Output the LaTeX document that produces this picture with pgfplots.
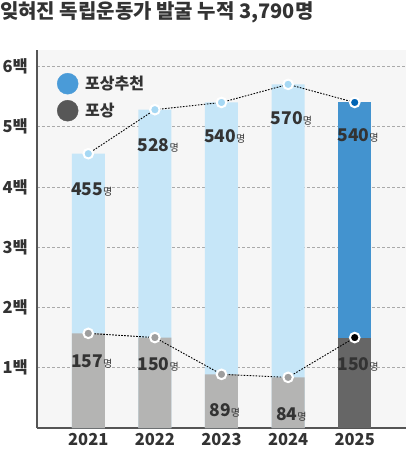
\documentclass[border=0pt]{standalone}
\usepackage{fontspec}
\setmainfont{Noto Sans CJK KR}
\usepackage{pgfplots}
\pgfplotsset{compat=1.18}

\definecolor{bgc}{HTML}{F6F6F6}
\definecolor{lblue}{HTML}{C6E6F8}
\definecolor{dblue}{HTML}{4393CF}
\definecolor{lgrey}{HTML}{B4B4B3}
\definecolor{dgrey}{HTML}{666666}
\definecolor{gridc}{HTML}{AAAAAA}
\definecolor{axc}{HTML}{555555}
\definecolor{txt}{HTML}{333333}
\definecolor{mkblue}{HTML}{A6D8F4}
\definecolor{mkgrey}{HTML}{9E9E9E}
\definecolor{mkdblue}{HTML}{0064B4}
\definecolor{legblue}{HTML}{4A9BD8}
\definecolor{leggrey}{HTML}{575757}

\newcommand\lab[1]{{\bfseries\fontsize{17.5}{17.5}\selectfont #1}{\fontsize{10}{10}\selectfont 명}}

\begin{document}
\begin{tikzpicture}[x=1pt,y=1pt]
\useasboundingbox (0,0) rectangle (406,456);
\node[anchor=north west, inner sep=0pt, text=txt,
      font=\bfseries\fontsize{20}{20}\selectfont] at (0,455) {잊혀진 독립운동가 발굴 누적 3,790명};
\begin{axis}[
    at={(37pt,28pt)}, anchor=south west,
    scale only axis, width=369pt, height=378pt,
    xmin=-0.77, xmax=4.77, ymin=0, ymax=627,
    axis x line*=bottom, axis y line*=left,
    axis line style={draw=axc, line width=1.2pt, -},
    axis background/.style={fill=bgc},
    xtick={0,1,2,3,4},
    xticklabels={2021,2022,2023,2024,2025},
    ytick={100,200,300,400,500,600},
    yticklabels={1백,2백,3백,4백,5백,6백},
    major tick length=0pt,
    ymajorgrids, grid style={densely dashed, gridc, line width=0.6pt},
    xticklabel style={inner sep=0pt, anchor=north, yshift=-5pt, text=txt,
                      font=\bfseries\fontsize{16.5}{16.5}\selectfont},
    yticklabel style={inner sep=0pt, anchor=east, xshift=-9pt, text=txt,
                      font=\bfseries\fontsize{16.5}{16.5}\selectfont},
    legend style={at={(0,1)}, anchor=north west, xshift=17pt, yshift=-21pt,
                  draw=none, fill=none, text=txt, row sep=6pt,
                  font=\bfseries\fontsize{16}{16}\selectfont},
    legend cell align=left,
]
% 포상추천 (total) bars
\addplot[ybar, bar width=33pt, bar shift=0pt, fill=lblue, draw=none, forget plot]
    coordinates {(0,455)(1,528)(2,540)(3,570)};
\addplot[ybar, bar width=33pt, bar shift=0pt, fill=dblue, draw=none, forget plot]
    coordinates {(4,540)};
% 포상 bars
\addplot[ybar, bar width=33pt, bar shift=0pt, fill=lgrey, draw=none, forget plot]
    coordinates {(0,157)(1,150)(2,89)(3,84)};
\addplot[ybar, bar width=33pt, bar shift=0pt, fill=dgrey, draw=none, forget plot]
    coordinates {(4,150)};

% dotted trend lines
\addplot[dash pattern=on 1.6pt off 1.4pt, line width=0.9pt, black, no marks, forget plot]
    coordinates {(0,455)(1,528)(2,540)(3,570)(4,540)};
\addplot[dash pattern=on 1.6pt off 1.4pt, line width=0.9pt, black, no marks, forget plot]
    coordinates {(0,157)(1,150)(2,89)(3,84)(4,150)};

% markers
\addplot[only marks, mark=*, mark size=4.8pt, forget plot,
         mark options={fill=mkblue, draw=white, line width=2pt}]
    coordinates {(0,455)(1,528)(2,540)(3,570)};
\addplot[only marks, mark=*, mark size=4.8pt, forget plot,
         mark options={fill=mkdblue, draw=white, line width=2pt}]
    coordinates {(4,540)};
\addplot[only marks, mark=*, mark size=4.8pt, forget plot,
         mark options={fill=mkgrey, draw=white, line width=2pt}]
    coordinates {(0,157)(1,150)(2,89)(3,84)};
\addplot[only marks, mark=*, mark size=4.8pt, forget plot,
         mark options={fill=black, draw=white, line width=2pt}]
    coordinates {(4,150)};

% value labels
\node[text=txt] at (axis cs:0.05,395) {\lab{455}};
\node[text=txt] at (axis cs:1.05,469) {\lab{528}};
\node[text=txt] at (axis cs:2.05,484) {\lab{540}};
\node[text=txt] at (axis cs:3.05,514) {\lab{570}};
\node[text=txt] at (axis cs:4.05,486) {\lab{540}};
\node[text=txt] at (axis cs:0.05,111) {\lab{157}};
\node[text=txt] at (axis cs:1.05,106) {\lab{150}};
\node[text=txt] at (axis cs:2.05,30) {\lab{89}};
\node[text=txt] at (axis cs:3.05,22) {\lab{84}};
\node[text=txt] at (axis cs:4.05,106) {\lab{150}};

% legend
\addlegendimage{only marks, mark=*, mark size=10.5pt, color=legblue}
\addlegendentry{\hspace{5pt}포상추천}
\addlegendimage{only marks, mark=*, mark size=10.5pt, color=leggrey}
\addlegendentry{\hspace{5pt}포상}
\end{axis}
\end{tikzpicture}
\end{document}
